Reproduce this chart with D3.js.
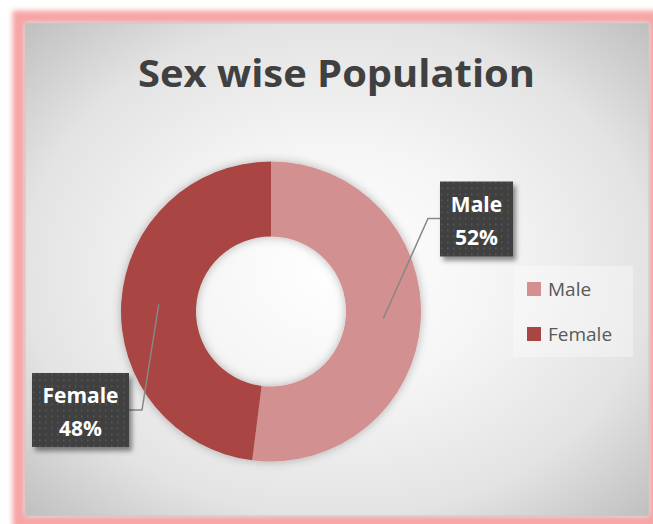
<!DOCTYPE html>
<html>
<head>
<meta charset="utf-8">
<script src="https://cdn.jsdelivr.net/npm/d3@7/dist/d3.min.js"></script>
<style>
  html, body { margin: 0; padding: 0; background: #ffffff; }
  svg { display: block; }
</style>
</head>
<body>
<svg id="chart" width="653" height="524"></svg>
<script>
// Population split by sex
const categories = ["Male", "Female"];
const shares = [52, 48];
const colors = ["#d39090", "#a94543"];
const chartTitle = "Sex wise Population";

const W = 653, H = 524;
const svg = d3.select("#chart");
const defs = svg.append("defs");

// Soft pink glow around the frame
const glow = defs.append("filter").attr("id", "glow")
  .attr("x", "-10%").attr("y", "-10%").attr("width", "120%").attr("height", "120%");
glow.append("feGaussianBlur").attr("stdDeviation", 2.5);

// Radial grey fill of the chart area
const bg = defs.append("radialGradient").attr("id", "bgGrad")
  .attr("cx", "0.5").attr("cy", "0.5").attr("r", "0.72");
[[0, "#ffffff"], [0.35, "#f5f5f5"], [0.7, "#e3e3e3"], [1, "#bdbdbd"]]
  .forEach(([o, c]) => bg.append("stop").attr("offset", o).attr("stop-color", c));

// Faint halo around the donut
const halo = defs.append("filter").attr("id", "halo")
  .attr("x", "-20%").attr("y", "-20%").attr("width", "140%").attr("height", "140%");
halo.append("feDropShadow").attr("dx", 0).attr("dy", 0)
  .attr("stdDeviation", 5).attr("flood-color", "#000").attr("flood-opacity", 0.28);

// Label box shadow
const boxShadow = defs.append("filter").attr("id", "boxShadow")
  .attr("x", "-20%").attr("y", "-20%").attr("width", "150%").attr("height", "150%");
boxShadow.append("feDropShadow").attr("dx", 3).attr("dy", 4)
  .attr("stdDeviation", 2.5).attr("flood-color", "#000").attr("flood-opacity", 0.45);

// Dotted dark fill for the data labels
const dots = defs.append("pattern").attr("id", "dots")
  .attr("width", 6).attr("height", 6).attr("patternUnits", "userSpaceOnUse");
dots.append("rect").attr("width", 6).attr("height", 6).attr("fill", "#3f3f3f");
dots.append("rect").attr("x", 2).attr("y", 2).attr("width", 1.6).attr("height", 1.6).attr("fill", "#5a5a5a");

// Frame
const frame = { x0: 25, y0: 23, x1: 649, y1: 516 };
svg.append("rect")
  .attr("x", frame.x0 - 6).attr("y", frame.y0 - 6)
  .attr("width", frame.x1 - frame.x0 + 12).attr("height", frame.y1 - frame.y0 + 12)
  .attr("fill", "none").attr("stroke", "#f6a5a5").attr("stroke-width", 13)
  .attr("filter", "url(#glow)");
svg.append("rect")
  .attr("x", frame.x0).attr("y", frame.y0)
  .attr("width", frame.x1 - frame.x0).attr("height", frame.y1 - frame.y0)
  .attr("fill", "url(#bgGrad)").attr("stroke", "#c8c8c8").attr("stroke-width", 1);

// Title
svg.append("text")
  .attr("x", 336.5).attr("y", 87)
  .attr("text-anchor", "middle")
  .attr("font-family", "'Open Sans', sans-serif")
  .attr("font-weight", 700).attr("font-size", 38)
  .attr("fill", "#404040")
  .attr("textLength", 397).attr("lengthAdjust", "spacingAndGlyphs")
  .text(chartTitle);

// Donut
const cx = 271, cy = 311.5;
const outerR = 150, innerR = 75;
const data = categories.map((c, i) => ({ name: c, value: shares[i], color: colors[i] }));
const pie = d3.pie().value(d => d.value).sort(null);
const arc = d3.arc().innerRadius(innerR).outerRadius(outerR);
const arcs = pie(data);

const g = svg.append("g").attr("transform", `translate(${cx},${cy})`);
g.append("g").attr("filter", "url(#halo)")
  .selectAll("path").data(arcs).join("path")
  .attr("d", arc)
  .attr("fill", d => d.data.color);

// Data labels with leader lines (elbow points and boxes relative to the centre)
const labelLayout = {
  Male:   { elbow: [157, -93],   join: [169, -93],   box: [169, -130, 73, 75] },
  Female: { elbow: [-129, 98.5], join: [-142, 98.5], box: [-239, 61.5, 97, 74] }
};
const fmt = d => Math.round(d.value / d3.sum(shares) * 100) + "%";
const line = d3.line();

arcs.forEach(a => {
  const L = labelLayout[a.data.name];
  g.append("path")
    .attr("d", line([arc.centroid(a), L.elbow, L.join]))
    .attr("fill", "none").attr("stroke", "#878787").attr("stroke-width", 1.5);
  const [bx, by, bw, bh] = L.box;
  g.append("rect")
    .attr("x", bx).attr("y", by).attr("width", bw).attr("height", bh)
    .attr("fill", "url(#dots)").attr("filter", "url(#boxShadow)");
  const t = g.append("text")
    .attr("text-anchor", "middle")
    .attr("font-family", "'Open Sans', sans-serif")
    .attr("font-weight", 700).attr("font-size", 21)
    .attr("fill", "#ffffff");
  t.append("tspan").attr("x", bx + bw / 2).attr("y", by + 30).text(a.data.name);
  t.append("tspan").attr("x", bx + bw / 2).attr("y", by + 63).text(fmt(a));
});

// Legend
const legend = svg.append("g").attr("transform", "translate(513,266)");
legend.append("rect").attr("width", 120).attr("height", 91)
  .attr("fill", "#ffffff").attr("fill-opacity", 0.35);
const item = legend.selectAll("g.item").data(data).join("g")
  .attr("class", "item")
  .attr("transform", (d, i) => `translate(14,${16 + i * 45})`);
item.append("rect").attr("width", 14).attr("height", 14).attr("fill", d => d.color);
item.append("text")
  .attr("x", 21).attr("y", 14)
  .attr("font-family", "'Open Sans', sans-serif")
  .attr("font-size", 19).attr("fill", "#595959")
  .text(d => d.name);
</script>
</body>
</html>
